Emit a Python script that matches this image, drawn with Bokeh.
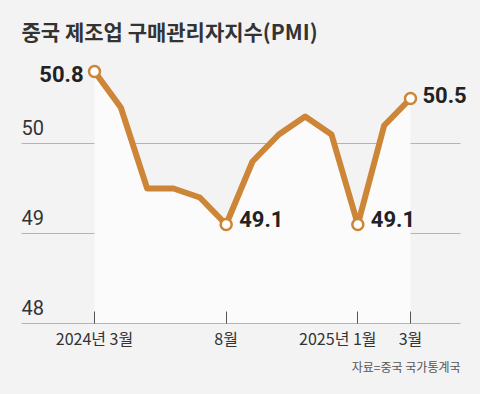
from bokeh.plotting import figure
from bokeh.models import Range1d, LinearAxis, FixedTicker, Grid, Label, Title
from bokeh.embed import file_html
from bokeh.resources import INLINE

months = ["2024-03", "2024-04", "2024-05", "2024-06", "2024-07", "2024-08", "2024-09",
          "2024-10", "2024-11", "2024-12", "2025-01", "2025-02", "2025-03"]
pmi = [50.8, 50.4, 49.5, 49.5, 49.4, 49.1, 49.8, 50.1, 50.3, 50.1, 49.1, 50.2, 50.5]
tick_idx = [0, 5, 10, 12]
tick_labels = ["2024년 3월", "8월", "2025년 1월", "3월"]
y_ticks = [48, 49, 50]
title_text = "중국 제조업 구매관리자지수(PMI)"
source_text = "자료=중국 국가통계국"

idx = list(range(len(months)))
BG = "#f3f3f3"
ORANGE = "#cd8538"
NUM_FONT = "Roboto"
KR_FONT = "Noto Sans CJK KR"

# frame spans full width; grid / axis limited with bounds
PXX = 26.333  # px per month
PX = 90.0     # px per PMI point
X0, X1 = -94 / PXX, 12 + (480 - 410) / PXX
B0, B1 = (21 - 94) / PXX, 12 + (460 - 410) / PXX
Y0, Y1 = 48, 48 + 323 / PX

p = figure(width=480, height=394, output_backend="svg", toolbar_location=None,
           x_axis_type=None, y_axis_type=None,
           x_range=Range1d(X0, X1), y_range=Range1d(Y0, Y1),
           min_border_left=0, min_border_right=0, min_border_top=0, min_border_bottom=71,
           background_fill_color=BG, border_fill_color=BG, outline_line_color=None)
p.title = None

grid = Grid(dimension=1, ticker=FixedTicker(ticks=y_ticks[1:]), grid_line_color="#b4b4b4",
            grid_line_width=1, cross_bounds=(B0, B1))
p.add_layout(grid)

p.varea(x=idx, y1=[y_ticks[0]] * len(idx), y2=pmi, fill_color="#fbfbfb")

shown = [s if s != "2025년 1월" else s + "\u3000\u3000\u2002" for s in tick_labels]
xaxis = LinearAxis(ticker=FixedTicker(ticks=tick_idx), bounds=(B0, B1),
                   major_label_overrides={i: s for i, s in zip(tick_idx, shown)})
xaxis.axis_line_color = "#b4b4b4"
xaxis.major_tick_in = 12
xaxis.major_tick_out = 0
xaxis.major_tick_line_color = "#555555"
xaxis.minor_tick_line_color = None
xaxis.major_label_text_font = KR_FONT
xaxis.major_label_text_font_size = "16px"
xaxis.major_label_text_color = "#333333"
xaxis.major_label_standoff = 2
p.add_layout(xaxis, "below")

src = Title(text=source_text, align="right", text_font=KR_FONT, text_font_size="12px",
            text_font_style="normal", text_color="#555555", offset=20, standoff=6)
p.add_layout(src, "below")

# title
p.add_layout(Label(x=B0, y=Y0 + (323 - 30) / PX, text=title_text, text_font=KR_FONT,
                   text_font_size="21px", text_font_style="bold", text_color="#333333",
                   text_align="left", text_baseline="middle"))

# y labels
for v in y_ticks:
    p.add_layout(Label(x=B0, y=v, text=str(v), text_font=NUM_FONT, text_font_size="20px",
                       text_color="#333333", text_align="left", text_baseline="bottom", y_offset=9))

p.line(idx, pmi, line_color=ORANGE, line_width=6, line_join="round")

mk = [0, 5, 10, 12]
p.scatter([idx[i] for i in mk], [pmi[i] for i in mk], size=11, marker="circle",
          fill_color="white", line_color=ORANGE, line_width=2.5)

val_style = dict(text_font=NUM_FONT, text_font_size="22px", text_font_style="bold",
                 text_color="#222222", text_baseline="middle")
p.add_layout(Label(x=idx[0], y=pmi[0], text=f"{pmi[0]}", text_align="right", x_offset=-11,
                   y_offset=-2, **val_style))
for i in (5, 10):
    p.add_layout(Label(x=idx[i], y=pmi[i], text=f"{pmi[i]}", text_align="left", x_offset=13,
                       y_offset=6, **val_style))
p.add_layout(Label(x=idx[12], y=pmi[12], text=f"{pmi[12]}", text_align="left", x_offset=12,
                   y_offset=4, **val_style))

html = file_html(p, INLINE)
html = html.replace("</head>", "<style>body{background:#f3f3f3;}</style></head>")
open("out.html", "w").write(html)
